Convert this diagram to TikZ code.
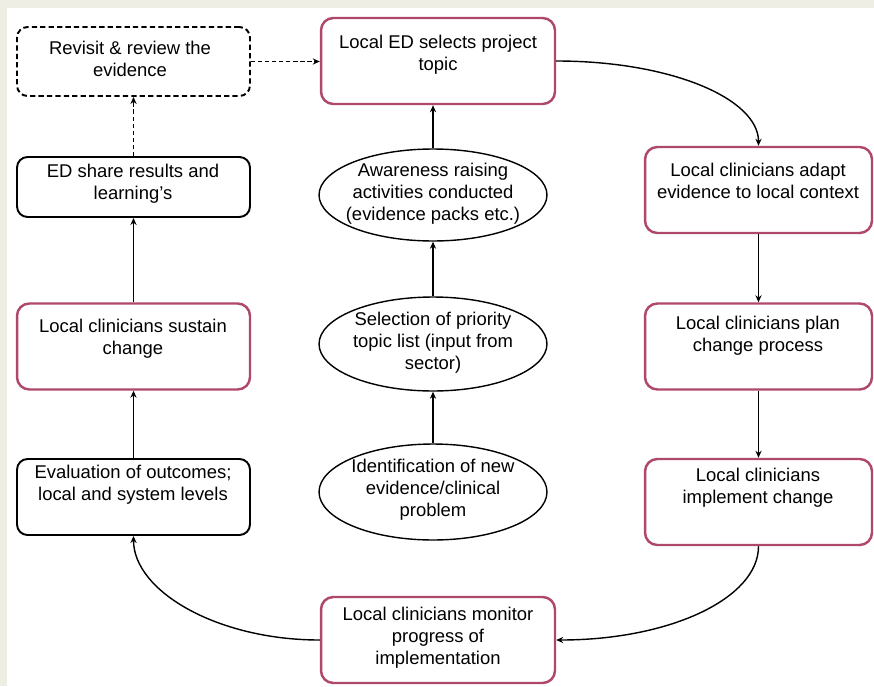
\documentclass[tikz,border=0pt]{standalone}
\usepackage{fontspec}
\setmainfont{Liberation Sans}
\usetikzlibrary{shapes.geometric,arrows.meta}
\definecolor{rimred}{HTML}{B0486E}
\definecolor{pagebg}{HTML}{EFEEE4}
\tikzset{
  stepbox/.style={draw=black, line width=1.1pt, rounded corners=6pt, minimum width=4.66cm, inner sep=0pt},
  redbox/.style={draw=rimred, line width=1.4pt, rounded corners=7pt, minimum width=4.66cm, minimum height=1.72cm, inner sep=0pt},
  dashbox/.style={stepbox, dash pattern=on 3pt off 1.8pt},
  oval/.style={ellipse, draw, line width=0.8pt, minimum width=4.56cm, inner sep=0pt},
  txt/.style={align=center, font=\fontsize{10.5}{12.5}\selectfont},
  arr/.style={-{Stealth[length=4pt,width=3.5pt]}, line width=0.8pt},
  dasharr/.style={arr, dash pattern=on 2.5pt off 1.5pt}
}
\begin{document}
\begin{tikzpicture}[x=0.02cm, y=-0.02cm]
\fill[pagebg] (0,0) rectangle (874,686);
\fill[white] (7,8) rectangle (874,686);
% left column
\node[dashbox, minimum height=1.38cm] (revisit) at (133.5,61.5) {};
\node[txt] (revisitT) at (130,59) {Revisit \& review the\\evidence};
\node[stepbox, minimum height=1.2cm] (share) at (133.5,187) {};
\node[txt] (shareT) at (133,184) {ED share results and\\learning’s};
\node[redbox] (sustain) at (133.5,346.5) {};
\node[txt] (sustainT) at (133,338.5) {Local clinicians sustain\\change};
\node[stepbox, minimum height=1.52cm] (eval) at (133.5,497) {};
\node[txt] (evalT) at (133,485) {Evaluation of outcomes;\\local and system levels};
% middle column
\node[redbox, minimum width=4.68cm] (select) at (438,61) {};
\node[txt] (selectT) at (438,55) {Local ED selects project\\topic};
\node[oval, minimum height=1.84cm] (aware) at (433,195) {};
\node[txt] (awareT) at (433,194) {Awareness raising\\activities conducted\\(evidence packs etc.)};
\node[oval, minimum height=1.88cm] (prio) at (433,344) {};
\node[txt] (prioT) at (433,343) {Selection of priority\\topic list (input from\\sector)};
\node[oval, minimum height=1.92cm] (ident) at (433,492) {};
\node[txt] (identT) at (433,490) {Identification of new\\evidence/clinical\\problem};
\node[redbox, minimum width=4.68cm] (monitor) at (438,640) {};
\node[txt] (monitorT) at (438,638) {Local clinicians monitor\\progress of\\implementation};
% right column
\node[redbox, minimum width=4.54cm] (adapt) at (758.5,190) {};
\node[txt] (adaptT) at (758,181) {Local clinicians adapt\\evidence to local context};
\node[redbox, minimum width=4.54cm] (plan) at (758.5,346.5) {};
\node[txt] (planT) at (758,336) {Local clinicians plan\\change process};
\node[redbox, minimum width=4.54cm] (implement) at (758.5,502) {};
\node[txt] (implementT) at (758,488) {Local clinicians\\implement change};
% connectors
\draw[arr] (ident) -- (prio);
\draw[arr] (prio) -- (aware);
\draw[arr] (aware.north) -- (aware.north |- select.south);
\draw[arr] (select.east) .. controls +(115,0) and +(0,-47) .. (adapt.north);
\draw[arr] (adapt) -- (plan);
\draw[arr] (plan) -- (implement);
\draw[arr] (implement.south) .. controls +(0,52) and +(114,0) .. (monitor.east);
\draw[arr] (monitor.west) .. controls +(-103,0) and +(0,55) .. (eval.south);
\draw[arr] (eval) -- (sustain);
\draw[arr] (sustain) -- (share);
\draw[dasharr] (share) -- (revisit);
\draw[dasharr] (revisit.east) -- (revisit.east -| select.west);
\end{tikzpicture}
\end{document}
